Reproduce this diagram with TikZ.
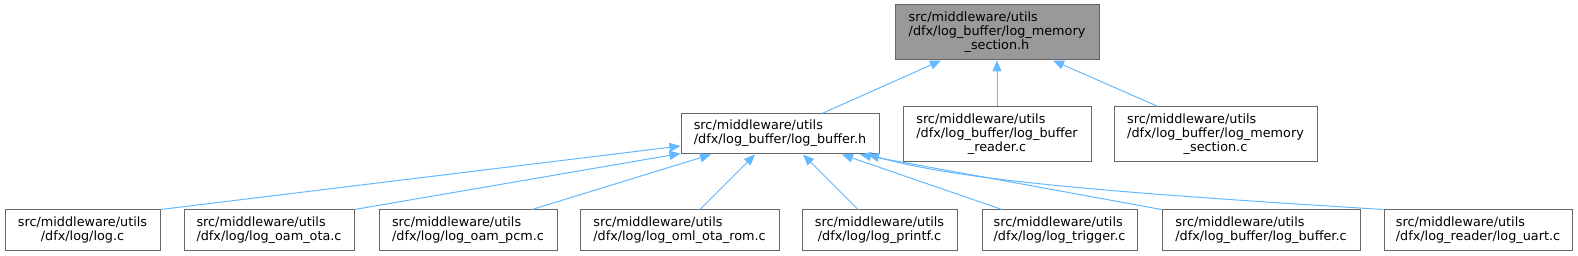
\documentclass[tikz,border=0pt]{standalone}
\usepackage{fontspec}
\setmainfont{DejaVu Sans}
\usetikzlibrary{arrows.meta,calc}
\definecolor{edgeblue}{HTML}{63B8FF}
\definecolor{boxgray}{HTML}{666666}
\definecolor{topfill}{HTML}{999999}
\newcommand{\ftwo}[2]{\begin{tabular}{@{}l@{}}#1\\\multicolumn{1}{@{}c@{}}{#2}\end{tabular}}
\newcommand{\fthree}[3]{\begin{tabular}{@{}l@{}}#1\\#2\\\multicolumn{1}{@{}c@{}}{#3}\end{tabular}}
\begin{document}
\begin{tikzpicture}[x=0.75pt,y=-0.75pt,
  box/.style={draw=boxgray, line width=0.75pt, fill=white, inner sep=0pt,
    font=\fontsize{9.6}{10.5}\selectfont},
  topbox/.style={box, fill=topfill},
  rowbox/.style={box, minimum height=30.75pt},
  edge/.style={draw=edgeblue, line width=0.75pt, -{Triangle[length=8.25pt,width=6.75pt]}},
]
\useasboundingbox (0,0) rectangle (1578,256);

\node[topbox, minimum width=153pt, minimum height=41.25pt] (top) at (997,32.5)
  {\fthree{src/middleware/utils}{/dfx/log\_buffer/log\_memory}{\_section.h}};
\node[box, minimum width=141pt, minimum height=41.25pt] (reader) at (997,134.5)
  {\fthree{src/middleware/utils}{/dfx/log\_buffer/log\_buffer}{\_reader.c}};
\node[box, minimum width=152.25pt, minimum height=41.25pt] (memsec) at (1215.5,134.5)
  {\fthree{src/middleware/utils}{/dfx/log\_buffer/log\_memory}{\_section.c}};
\node[box, minimum width=148.5pt, minimum height=30pt] (lbh) at (780,134)
  {\ftwo{src/middleware/utils}{/dfx/log\_buffer/log\_buffer.h}};

\node[rowbox, minimum width=116.25pt] (logc) at (82.5,230.5)
  {\ftwo{src/middleware/utils}{/dfx/log/log.c}};
\node[rowbox, minimum width=127.5pt] (oamota) at (269,230.5)
  {\ftwo{src/middleware/utils}{/dfx/log/log\_oam\_ota.c}};
\node[rowbox, minimum width=133.5pt] (oampcm) at (468,230.5)
  {\ftwo{src/middleware/utils}{/dfx/log/log\_oam\_pcm.c}};
\node[rowbox, minimum width=149.25pt] (oml) at (679.5,230.5)
  {\ftwo{src/middleware/utils}{/dfx/log/log\_oml\_ota\_rom.c}};
\node[rowbox, minimum width=116.25pt] (printf) at (879.5,230.5)
  {\ftwo{src/middleware/utils}{/dfx/log/log\_printf.c}};
\node[rowbox, minimum width=116.25pt] (trigger) at (1059.5,230.5)
  {\ftwo{src/middleware/utils}{/dfx/log/log\_trigger.c}};
\node[rowbox, minimum width=148.5pt] (bufc) at (1261,230.5)
  {\ftwo{src/middleware/utils}{/dfx/log\_buffer/log\_buffer.c}};
\node[rowbox, minimum width=141pt] (uart) at (1478,230.5)
  {\ftwo{src/middleware/utils}{/dfx/log\_reader/log\_uart.c}};

\draw[edge] ($(lbh.north)+(42,0)$) -- ($(top.south)+(-56,0)$);
\draw[edge] (reader.north) -- (top.south);
\draw[edge] ($(memsec.north)+(-57.5,0)$) -- ($(top.south)+(56,0)$);

\draw[edge] (logc.north east) -- ($(lbh.west)+(0,12)$);
\draw[edge] (oamota.north east) -- ($(lbh.south west)+(0,-1)$);
\draw[edge] ($(oampcm.north)+(64,0)$) -- ($(lbh.south)+(-69,0)$);
\draw[edge] ($(oml.north)+(20.5,0)$) -- ($(lbh.south)+(-25,0)$);
\draw[edge] ($(printf.north)+(-21.5,0)$) -- ($(lbh.south)+(23,0)$);
\draw[edge] ($(trigger.north)+(-57.5,0)$) -- ($(lbh.south)+(62,0)$);
\draw[edge] (bufc.north west) -- ($(lbh.south)+(80,0)$);
\draw[edge] (uart.north west) .. controls (1100,192) and (960,180) .. ($(lbh.south)+(88,0)$);
\end{tikzpicture}
\end{document}
